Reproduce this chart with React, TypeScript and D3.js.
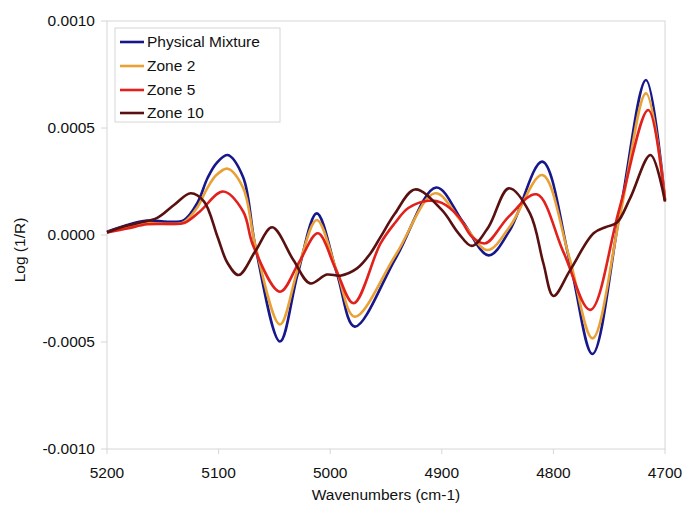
import React from "react";
import * as d3 from "d3";

const xTicks = [5200, 5100, 5000, 4900, 4800, 4700];
const yTicks = [0.001, 0.0005, 0, -0.0005, -0.001];
const yTickLabels = ["0.0010", "0.0005", "0.0000", "-0.0005", "-0.0010"];

const seriesNames = ["Physical Mixture", "Zone 2", "Zone 5", "Zone 10"];
const seriesColors = ["#17178c", "#e9a136", "#e2201c", "#5a1010"];

const physicalMixture: [number, number][] = [
  [5200, 0.000015], [5182, 0.000047], [5164, 0.000067], [5145, 0.000062], [5131, 0.00007],
  [5119, 0.00015], [5110, 0.000265], [5102, 0.000335], [5092, 0.000374], [5078, 0.00027], [5067, -0.000055],
  [5045, -0.000498], [5029, -0.000179], [5012, 0.000101], [4994, -0.000179], [4978, -0.000428],
  [4941, -0.105e-3], [4905, 0.000222], [4881, 0.00006], [4858, -0.000095], [4839, 0.000023],
  [4810, 0.000343], [4785, -0.000132], [4765, -0.000556], [4740, 0.000117], [4717, 0.000724],
  [4700, 0.000164],
];

const zone2: [number, number][] = [
  [5200, 0.000012], [5182, 0.00004], [5164, 0.000055], [5145, 0.000052], [5131, 0.00006],
  [5119, 0.00013], [5110, 0.00022], [5102, 0.00028], [5092, 0.00031], [5078, 0.00022], [5067, -0.00005],
  [5045, -0.000418], [5029, -0.00016], [5012, 0.00007], [4994, -0.00017], [4978, -0.000382],
  [4941, -0.00009], [4906, 0.000195], [4882, 0.00006], [4859, -0.00007], [4839, 0.00004],
  [4810, 0.00028], [4786, -0.0001], [4765, -0.000483], [4740, 0.0001], [4717, 0.000662],
  [4700, 0.00017],
];

const zone5: [number, number][] = [
  [5200, 0.000012], [5182, 0.00003], [5164, 0.00005], [5145, 0.000052], [5131, 0.000056],
  [5117, 0.000109], [5096, 0.000203], [5078, 0.00011], [5069, -0.00005], [5045, -0.000265],
  [5028, -0.000128], [5011, 0.000008], [4995, -0.00016], [4979, -0.000319], [4955, -0.00004],
  [4942, 0.000056], [4930, 0.000126], [4912, 0.00016], [4900, 0.00015], [4885, 0.000086],
  [4873, -0.000008], [4861, -0.000039], [4840, 0.000086], [4815, 0.00019], [4791, -0.00008],
  [4767, -0.00035], [4741, 0.00012], [4715, 0.000584], [4700, 0.00016],
];

const zone10: [number, number][] = [
  [5200, 0.000012], [5185, 0.00004], [5170, 0.000058], [5155, 0.00008], [5140, 0.00014],
  [5125, 0.000195], [5113, 0.000156], [5101, -0.000008], [5092, -0.000131], [5082, -0.000187],
  [5067, -0.000075], [5052, 0.000036], [5033, -0.000117], [5018, -0.000226], [5003, -0.000185],
  [4991, -0.00019], [4976, -0.000156], [4964, -0.000086], [4955, -0.00001], [4942, 0.0001],
  [4924, 0.000213], [4900, 0.000117], [4885, 0.000008], [4873, -0.000051], [4858, 0.000039],
  [4840, 0.000218], [4821, 0.000101], [4809, -0.000132], [4800, -0.000285], [4785, -0.000164],
  [4764, 0.000008], [4752, 0.000039], [4743, 0.000058], [4731, 0.000175], [4713, 0.000374],
  [4700, 0.000156],
];

const allSeries = [physicalMixture, zone2, zone5, zone10];

const W = 683;
const H = 508;
const plot = { left: 107, right: 665, top: 21, bottom: 449 };
const FONT = "'Liberation Sans', Arial, sans-serif";
const GRID = "#d6d6d6";

export default function App() {
  const x = d3.scaleLinear().domain([5200, 4700]).range([plot.left, plot.right]);
  const y = d3.scaleLinear().domain([-0.001, 0.001]).range([plot.bottom, plot.top]);
  const line = d3
    .line<[number, number]>()
    .x((d) => x(d[0]))
    .y((d) => y(d[1]))
    .curve(d3.curveCatmullRom.alpha(0.5));

  const legend = { x: 115, y: 28, w: 165, h: 94 };
  const rowY = [42, 66, 90, 113];

  return (
    <svg
      width={W}
      height={H}
      style={{ position: "absolute", left: 0, top: 0, background: "#fff" }}
      fontFamily={FONT}
    >
      <rect x={0} y={0} width={W} height={H} fill="#fff" />
      <rect
        x={plot.left}
        y={plot.top}
        width={plot.right - plot.left}
        height={plot.bottom - plot.top}
        fill="none"
        stroke={GRID}
        strokeWidth={1}
      />
      {yTicks.map((t, i) => (
        <g key={"y" + i}>
          <line x1={plot.left - 6} x2={plot.left} y1={y(t)} y2={y(t)} stroke={GRID} />
          <text
            x={95}
            y={y(t)}
            dy="0.35em"
            textAnchor="end"
            fontSize={15.5}
            fill="#111"
          >
            {yTickLabels[i]}
          </text>
        </g>
      ))}
      {xTicks.map((t, i) => (
        <g key={"x" + i}>
          <line x1={x(t)} x2={x(t)} y1={plot.bottom} y2={plot.bottom + 5} stroke={GRID} />
          <text x={x(t)} y={478} textAnchor="middle" fontSize={15.5} fill="#111">
            {t}
          </text>
        </g>
      ))}
      <text x={386} y={500} textAnchor="middle" fontSize={15.5} fill="#111">
        Wavenumbers (cm-1)
      </text>
      <text
        transform={`translate(25,250) rotate(-90)`}
        textAnchor="middle"
        fontSize={15.5}
        fill="#111"
      >
        Log (1/R)
      </text>
      <g>
        {allSeries.map((s, i) => (
          <path
            key={"s" + i}
            d={line(s) || ""}
            fill="none"
            stroke={seriesColors[i]}
            strokeWidth={2.6}
            strokeLinejoin="round"
          />
        ))}
      </g>
      <rect
        x={legend.x}
        y={legend.y}
        width={legend.w}
        height={legend.h}
        fill="#fff"
        stroke={GRID}
      />
      {seriesNames.map((n, i) => (
        <g key={"l" + i}>
          <line x1={120} x2={144} y1={rowY[i]} y2={rowY[i]} stroke={seriesColors[i]} strokeWidth={2.6} />
          <text x={147} y={rowY[i]} dy="0.35em" fontSize={15.5} fill="#111">
            {n}
          </text>
        </g>
      ))}
    </svg>
  );
}
